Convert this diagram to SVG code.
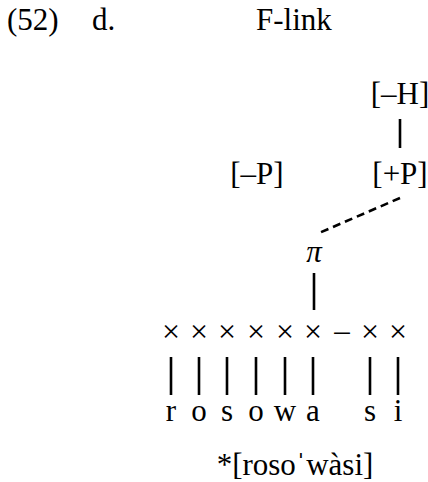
<svg xmlns="http://www.w3.org/2000/svg" width="428" height="482" viewBox="0 0 428 482">
<style>
text{font-family:'Liberation Serif','DejaVu Serif',serif;font-size:31px;fill:#000}
.c{text-anchor:middle}
.x{font-size:32px}
.l{stroke:#000;stroke-width:2.6;fill:none}
.d{stroke:#000;stroke-width:2.6;fill:none;stroke-dasharray:8 5}
</style>
<rect width="428" height="482" fill="#fff"/>
<g id="title">
<text x="7" y="30">(52)</text>
<text x="92" y="30">d.</text>
<text x="256" y="30">F-link</text>
</g>
<g id="nH"><text class="c" x="400" y="104">[–H]</text></g>
<g id="nmP"><text class="c" x="257" y="184">[–P]</text></g>
<g id="npP"><text class="c" x="400" y="184">[+P]</text></g>
<g id="npi"><text class="c" x="314" y="262" font-style="italic">π</text></g>
<g id="skeleton">
<text class="c x" x="171" y="342">×</text>
<text class="c x" x="199" y="342">×</text>
<text class="c x" x="227" y="342">×</text>
<text class="c x" x="256" y="342">×</text>
<text class="c x" x="285" y="342">×</text>
<text class="c x" x="313" y="342">×</text>
<text class="c" x="342" y="341">–</text>
<text class="c x" x="370" y="342">×</text>
<text class="c x" x="398" y="342">×</text>
</g>
<g id="segments">
<text class="c" x="171" y="421">r</text>
<text class="c" x="199" y="421">o</text>
<text class="c" x="227" y="421">s</text>
<text class="c" x="256" y="421">o</text>
<text class="c" x="285" y="421">w</text>
<text class="c" x="313" y="421">a</text>
<text class="c" x="370" y="421">s</text>
<text class="c" x="398" y="421">i</text>
</g>
<g id="form"><text class="c" x="295" y="475">*[rosoˈwàsi]</text></g>
<g id="connectors">
<line class="l" x1="400" y1="119" x2="400" y2="148"/>
<line class="d" x1="400" y1="198" x2="319" y2="233"/>
<line class="l" x1="314" y1="273" x2="314" y2="310"/>
<line class="l" x1="171" y1="357" x2="171" y2="395"/>
<line class="l" x1="199" y1="357" x2="199" y2="395"/>
<line class="l" x1="227" y1="357" x2="227" y2="395"/>
<line class="l" x1="256" y1="357" x2="256" y2="395"/>
<line class="l" x1="285" y1="357" x2="285" y2="395"/>
<line class="l" x1="313" y1="357" x2="313" y2="395"/>
<line class="l" x1="370" y1="357" x2="370" y2="395"/>
<line class="l" x1="398" y1="357" x2="398" y2="395"/>
</g>
</svg>
